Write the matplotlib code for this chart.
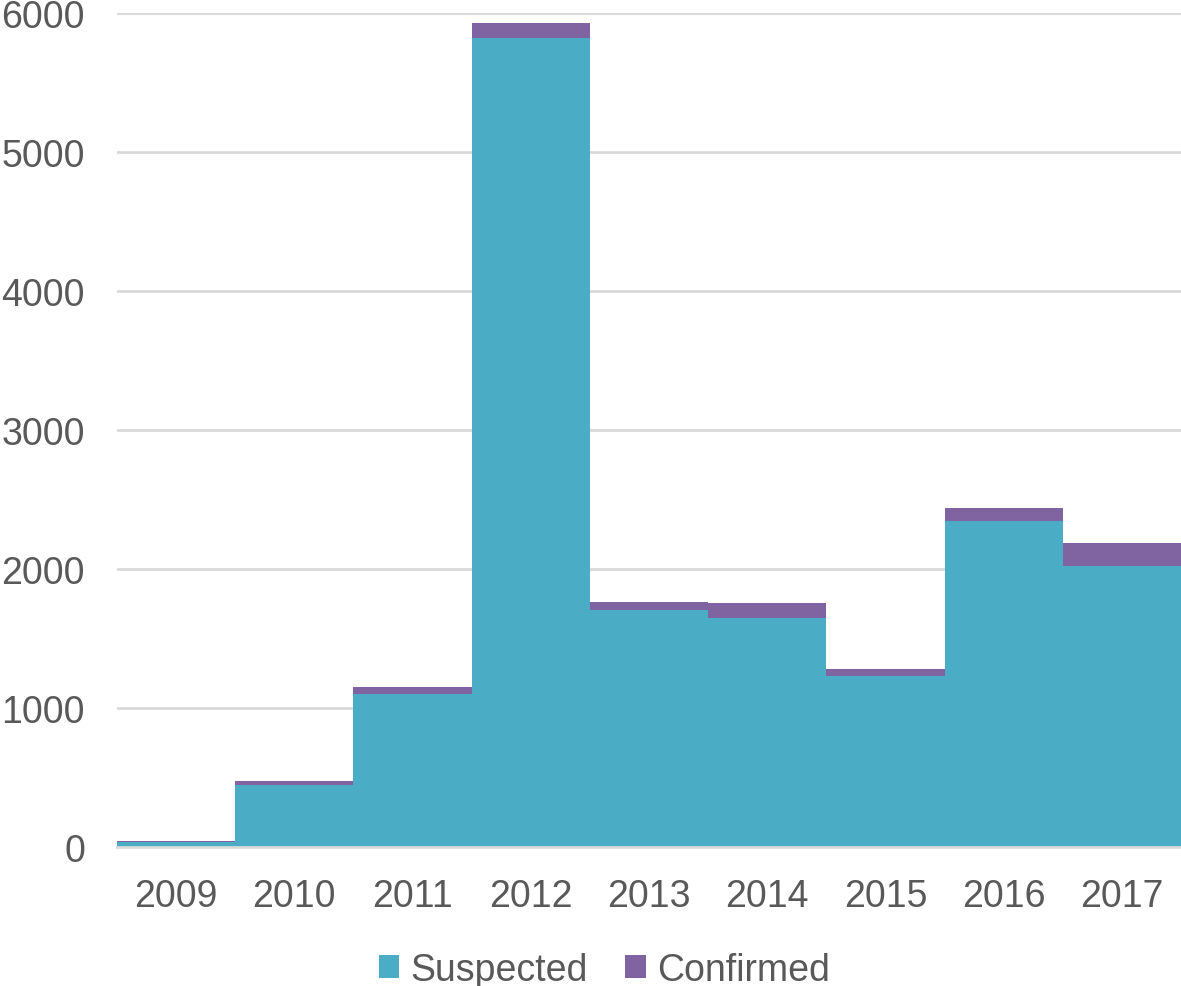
import matplotlib.pyplot as plt
import numpy as np

years = ['2009', '2010', '2011', '2012', '2013', '2014', '2015', '2016', '2017']
suspected = [38, 448, 1099, 5820, 1703, 1647, 1232, 2348, 2024]
confirmed = [5, 25, 50, 106, 62, 106, 49, 89, 161]

plt.rcParams['font.family'] = ['Liberation Sans', 'DejaVu Sans']

fig = plt.figure(figsize=(11.81, 9.87), dpi=100)
ax = fig.add_axes([0.0991, 0.1408, 0.9009, 0.845])

x = np.arange(len(years))
ax.bar(x, suspected, width=1.0, color='#4BACC6', label='Suspected', zorder=2)
ax.bar(x, confirmed, width=1.0, bottom=suspected, color='#8064A2', label='Confirmed', zorder=2)

ax.set_xlim(-0.5, len(years) - 0.5)
ax.set_ylim(0, 6000)
ax.set_yticks(range(0, 6001, 1000))
ax.set_xticks(x)
ax.set_xticklabels(years)
ax.tick_params(axis='both', length=0, labelsize=27, labelcolor='#595959')
ax.tick_params(axis='y', pad=23)
ax.tick_params(axis='x', pad=22)
ax.grid(axis='y', color='#D9D9D9', lw=2, zorder=0)
for s in ['top', 'right', 'left']:
    ax.spines[s].set_visible(False)
ax.spines['bottom'].set_color('#D9D9D9')
ax.spines['bottom'].set_linewidth(2)

ax.legend(loc='upper center', bbox_to_anchor=(0.458, -0.085), ncol=2, frameon=False,
          fontsize=27, labelcolor='#595959', handlelength=0.55, handleheight=0.55,
          handletextpad=0.3, columnspacing=1.0)

fig.savefig('out.png', dpi=100)
